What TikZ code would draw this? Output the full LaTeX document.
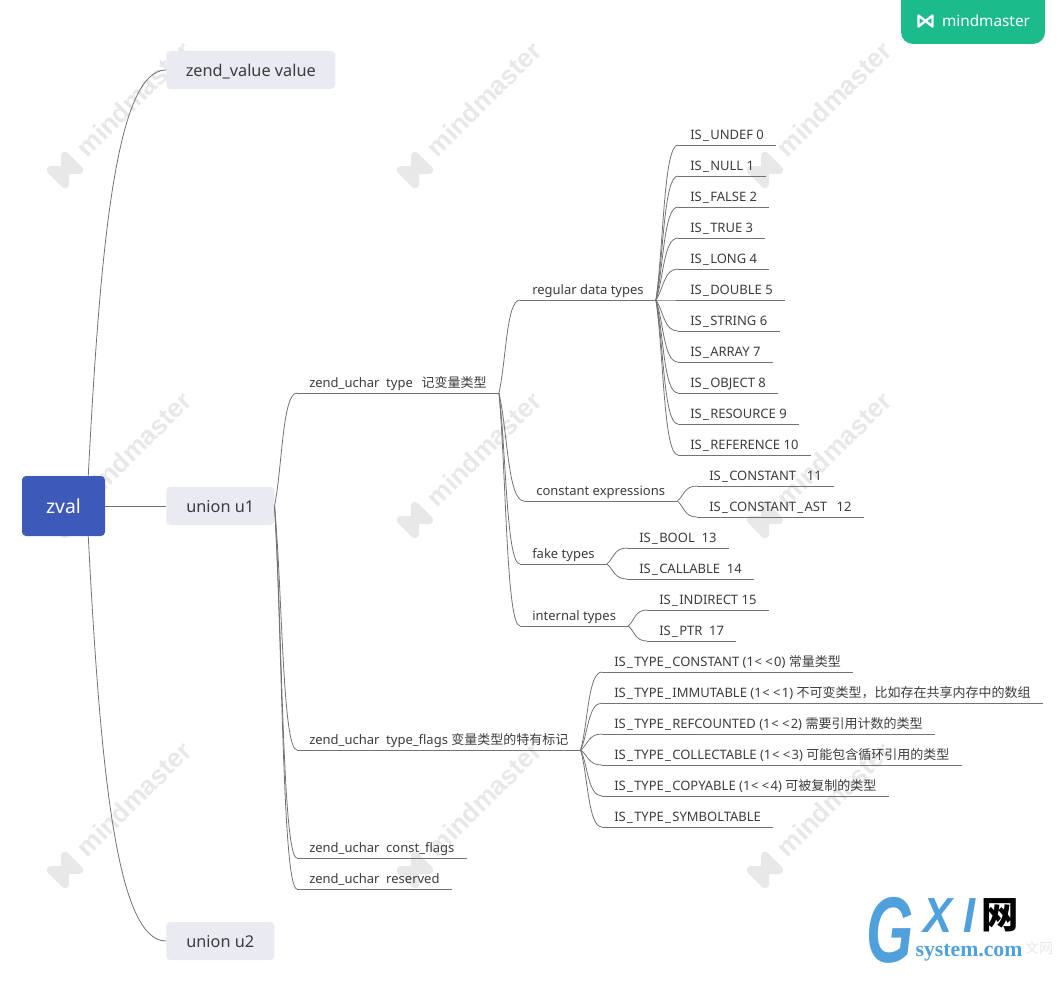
\documentclass[tikz,border=0pt]{standalone}
\usepackage{fontspec}
\setmainfont{Noto Sans}
\newfontfamily\cjk{Noto Sans CJK SC}
\newfontfamily\brandsans{Liberation Sans}
\newfontfamily\brandserif{Liberation Serif}
\newcommand{\us}{\kern0.9pt\_\kern1.1pt}
\newcommand{\shl}{\kern0.6pt<\kern2.4pt<\kern1pt}
\definecolor{deepzval}{RGB}{62,90,184}
\definecolor{palenode}{RGB}{233,234,242}
\definecolor{wirecol}{RGB}{115,115,115}
\definecolor{inkcol}{RGB}{60,60,60}
\definecolor{markcol}{RGB}{232,232,232}
\definecolor{badgecol}{RGB}{28,187,140}
\definecolor{gxiblue}{RGB}{80,160,220}
\usetikzlibrary{calc}
\tikzset{
  mmlogo/.pic={\draw[pic actions, line join=round] (-1,1) -- (-1,-1) -- (1,1) -- (1,-1) -- cycle;}
}

\begin{document}
\begin{tikzpicture}[
  x=0.75pt, y=-0.75pt,
  root/.style={rectangle, fill=deepzval, rounded corners=3pt, minimum width=62.25pt, minimum height=45pt, text=white, font=\fontsize{14.5pt}{17pt}\selectfont},
  mainbox/.style={rectangle, fill=palenode, rounded corners=3pt, anchor=west, minimum height=28.5pt, inner xsep=0pt, inner ysep=0pt, text height=12pt, text depth=3pt, text=inkcol, font=\fontsize{12.2pt}{16pt}\selectfont},
  topic/.style={anchor=south west, inner xsep=9pt, inner ysep=0pt, text height=8pt, text depth=3.9pt, text=inkcol, font=\fontsize{9.75pt}{12pt}\selectfont,
    append after command={(\tikzlastnode.south west) edge[wire] (\tikzlastnode.south east)}},
  wire/.style={draw=wirecol, line width=0.6pt},
  branch/.style={to path={.. controls ($(\tikztostart)!.35!(\tikztotarget)$) and ($(\tikztotarget)!.65!(\tikztotarget -| \tikztostart)$) .. (\tikztotarget)}},
  wmark/.style={text=markcol, rotate=45, font=\fontsize{19.8pt}{24pt}\selectfont\brandsans\bfseries}
]
  \useasboundingbox (0,0) rectangle (1063,981);

  % watermarks
  \foreach \col in {0,350,700}{
    \foreach \row in {0,350,700}{
      \node[wmark] (wm\col\row) at (134+\col,99+\row) {mindmaster};
      \pic[draw=markcol, line width=6pt, rotate=45, scale=10] at (65+\col,170+\row) {mmlogo};
    }
  }

  % badge
  \fill[badgecol, rounded corners=9pt] (901,-20) rectangle (1045,44);
  \node[text=white, font=\fontsize{11.5pt}{14pt}\selectfont] (badge) at (986,21) {mindmaster};
  \pic[draw=white, line width=1.8pt, xscale=7, yscale=5.5] at (925.5,21) {mmlogo};

  % first level
  \node[root] (zval) at (63.5,506) {zval};
  \node[mainbox, minimum width=126.75pt] (value) at (166,70) {zend\_value value};
  \node[mainbox, minimum width=81pt] (u1) at (166,506) {union u1};
  \node[mainbox, minimum width=81pt] (u2) at (166,941) {union u2};

  % union u1
  \node[topic] (type) at (297,393) {zend\_uchar\ \ type\ \ \kern1.5pt{\cjk 记变量类型}};
  \node[topic] (flags) at (297,750) {zend\_uchar\ \ type\_flags {\cjk 变量类型的特有标记}};
  \node[topic] (const) at (297,858) {zend\_uchar\ \ const\_flags};
  \node[topic] (reserved) at (297,889) {zend\_uchar\ \ reserved};

  % type groups
  \node[topic] (regular) at (520,300) {regular data types};
  \node[topic] (expr) at (524,501) {constant expressions};
  \node[topic] (fake) at (520,564) {fake types};
  \node[topic] (internal) at (520,626) {internal types};

  % regular data types
  \node[topic] (undef) at (678,145) {IS\us UNDEF 0};
  \node[topic] (null) at (678,176) {IS\us NULL 1};
  \node[topic] (false) at (678,207) {IS\us FALSE 2};
  \node[topic] (true) at (678,238) {IS\us TRUE 3};
  \node[topic] (long) at (678,269) {IS\us LONG 4};
  \node[topic] (double) at (678,300) {IS\us DOUBLE 5};
  \node[topic] (string) at (678,331) {IS\us STRING 6};
  \node[topic] (array) at (678,362) {IS\us ARRAY 7};
  \node[topic] (object) at (678,393) {IS\us OBJECT 8};
  \node[topic] (resource) at (678,424) {IS\us RESOURCE 9};
  \node[topic] (reference) at (678,455) {IS\us REFERENCE 10};

  \node[topic] (constant) at (697,486) {IS\us CONSTANT\ \ \kern3pt 11};
  \node[topic] (ast) at (697,517) {IS\us CONSTANT\us AST\ \ \kern2pt 12};
  \node[topic] (bool) at (627,548) {IS\us BOOL\ \ 13};
  \node[topic] (callable) at (627,579) {IS\us CALLABLE\ \ 14};
  \node[topic] (indirect) at (647,610) {IS\us INDIRECT 15};
  \node[topic] (ptr) at (647,641) {IS\us PTR\ \ 17};

  % type flags
  \node[topic] (tconst) at (602,672) {IS\us TYPE\us CONSTANT (1\shl 0) {\cjk 常量类型}};
  \node[topic] (timm) at (602,703) {IS\us TYPE\us IMMUTABLE (1\shl 1) {\cjk 不可变类型，比如存在共享内存中的数组}};
  \node[topic] (tref) at (602,734) {IS\us TYPE\us REFCOUNTED (1\shl 2) {\cjk 需要引用计数的类型}};
  \node[topic] (tcoll) at (602,765) {IS\us TYPE\us COLLECTABLE (1\shl 3) {\cjk 可能包含循环引用的类型}};
  \node[topic] (tcopy) at (602,796) {IS\us TYPE\us COPYABLE (1\shl 4) {\cjk 可被复制的类型}};
  \node[topic] (tsym) at (602,827) {IS\us TYPE\us SYMBOLTABLE};

  % connectors
  \draw[wire] ([xshift=-12.75pt]zval.north east) .. controls +(12,-230) and +(-50,0) .. (value.west);
  \draw[wire] ([xshift=-12.75pt]zval.south east) .. controls +(12,230) and +(-50,0) .. (u2.west);
  \draw[wire] (zval.east) -- (u1.west);

  \draw[wire] (u1.east) to[branch] (type.south west);
  \draw[wire] (u1.east) to[branch] (flags.south west);
  \draw[wire] (u1.east) to[branch] (const.south west);
  \draw[wire] (u1.east) to[branch] (reserved.south west);

  \draw[wire] (type.south east) to[branch] (regular.south west);
  \draw[wire] (type.south east) to[branch] (expr.south west);
  \draw[wire] (type.south east) to[branch] (fake.south west);
  \draw[wire] (type.south east) to[branch] (internal.south west);

  \draw[wire] (regular.south east) to[branch] (undef.south west);
  \draw[wire] (regular.south east) to[branch] (null.south west);
  \draw[wire] (regular.south east) to[branch] (false.south west);
  \draw[wire] (regular.south east) to[branch] (true.south west);
  \draw[wire] (regular.south east) to[branch] (long.south west);
  \draw[wire] (regular.south east) to[branch] (double.south west);
  \draw[wire] (regular.south east) to[branch] (string.south west);
  \draw[wire] (regular.south east) to[branch] (array.south west);
  \draw[wire] (regular.south east) to[branch] (object.south west);
  \draw[wire] (regular.south east) to[branch] (resource.south west);
  \draw[wire] (regular.south east) to[branch] (reference.south west);

  \draw[wire] (expr.south east) to[branch] (constant.south west);
  \draw[wire] (expr.south east) to[branch] (ast.south west);
  \draw[wire] (fake.south east) to[branch] (bool.south west);
  \draw[wire] (fake.south east) to[branch] (callable.south west);
  \draw[wire] (internal.south east) to[branch] (indirect.south west);
  \draw[wire] (internal.south east) to[branch] (ptr.south west);

  \draw[wire] (flags.south east) to[branch] (tconst.south west);
  \draw[wire] (flags.south east) to[branch] (timm.south west);
  \draw[wire] (flags.south east) to[branch] (tref.south west);
  \draw[wire] (flags.south east) to[branch] (tcoll.south west);
  \draw[wire] (flags.south east) to[branch] (tcopy.south west);
  \draw[wire] (flags.south east) to[branch] (tsym.south west);

  % gxi mark
  \node[text=gxiblue, xscale=.65, font=\fontsize{70pt}{70pt}\selectfont\brandsans\bfseries\itshape] (gmark) at (890,930) {G};
  \node[text=gxiblue, xscale=.88, font=\fontsize{37pt}{37pt}\selectfont\brandsans\bfseries\itshape] (xmark) at (938,916) {X};
  \node[text=gxiblue, xscale=.88, font=\fontsize{37pt}{37pt}\selectfont\brandsans\bfseries\itshape] (imark) at (970,916) {I};
  \node[text=black, font=\fontsize{28pt}{28pt}\selectfont\cjk\bfseries] (wang) at (1000,915) {网};
  \node[text=gxiblue, font=\fontsize{16.3pt}{18pt}\selectfont\brandserif\bfseries] (sysmark) at (969,953) {system.com};
  \node[text=markcol, font=\fontsize{10.5pt}{12pt}\selectfont\cjk] (cnmark) at (1039,948) {文网};
\end{tikzpicture}
\end{document}
